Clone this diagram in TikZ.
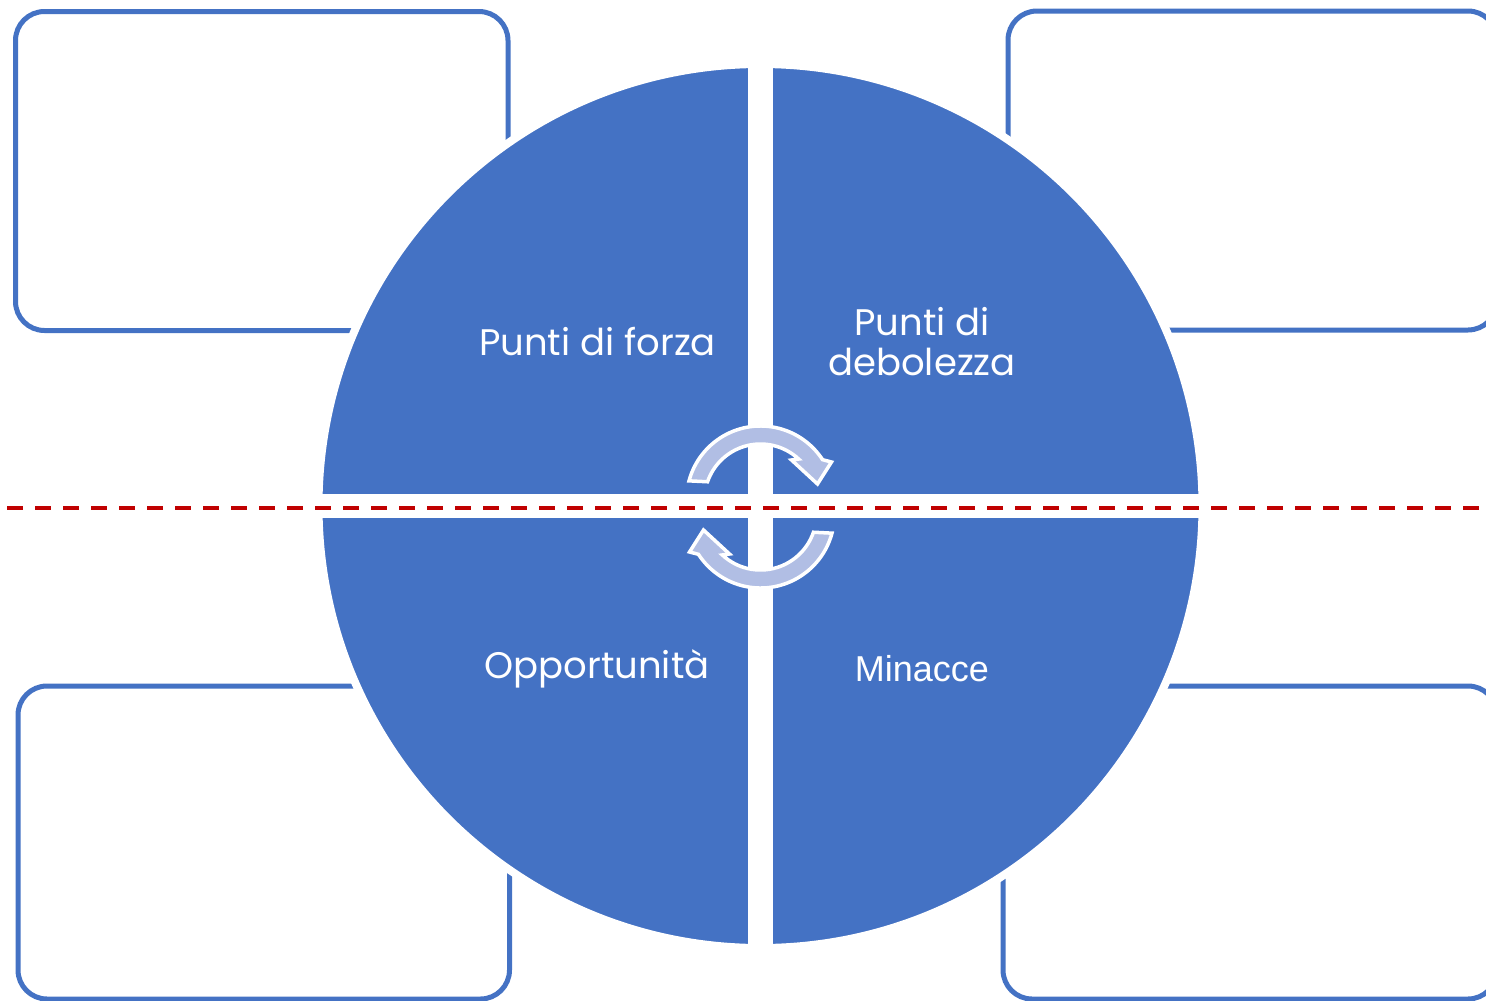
\documentclass[tikz,border=0pt]{standalone}
\usepackage{fontspec}
\setmainfont{Poppins}
\newfontfamily\arialfont{Liberation Sans}
\definecolor{mainblue}{RGB}{68,114,196}
\definecolor{arrowblue}{RGB}{177,190,228}
\definecolor{dashred}{RGB}{192,0,0}
\tikzset{
  infobox/.style={draw=mainblue, line width=5pt, rounded corners=29pt},
  lbl/.style={text=white, inner sep=0pt, font=\fontsize{37}{40}\selectfont},
  cyc/.pic={
    \filldraw[fill=arrowblue, draw=white, line width=3.5pt, line join=miter, miter limit=4]
      (165:74) arc[start angle=165, end angle=33, radius=74]
      -- (71,38) -- (57,16) -- (31,40)
      -- (47:56) arc[start angle=47, end angle=161, radius=56] -- cycle;
  }
}
\begin{document}
\begin{tikzpicture}[x=1pt,y=1pt]
\useasboundingbox (0,0) rectangle (1486,-1001);
\clip (0,0) rectangle (1486,-1001);
\fill[white] (0,0) rectangle (1486,-1001);
% outer boxes
\draw[infobox] (15.5,-11.5) rectangle (508,-330.5);
\draw[infobox] (1008,-11) rectangle (1497,-330);
\draw[infobox] (18,-686) rectangle (509.5,-999);
\draw[infobox] (1003,-686) rectangle (1497,-999);
% circle
\filldraw[fill=mainblue, draw=white, line width=8pt] (760.5,-506) circle[radius=442];
\fill[white] (748,-40) rectangle (773,-975);
\fill[white] (300,-494) rectangle (1225,-518);
% dashed line
\draw[dashred, line width=4pt, dash pattern=on 16pt off 12pt] (7,-507.5) -- (1486,-507.5);
% arrows
\pic (arrtop) at (760.5,-500) {cyc};
\pic[rotate=180] (arrbot) at (760.5,-514) {cyc};
% labels
\node[lbl, anchor=base] (s) at (597.5,-355) {Punti di forza};
\node[lbl, align=center] (w) at (922,-342) {Punti di\\debolezza};
\node[lbl, anchor=base] (o) at (597,-678) {Opportunità};
\node[text=white, inner sep=0pt, anchor=base, font=\arialfont\fontsize{36}{40}\selectfont] (t) at (922,-681) {Minacce};
\end{tikzpicture}
\end{document}
